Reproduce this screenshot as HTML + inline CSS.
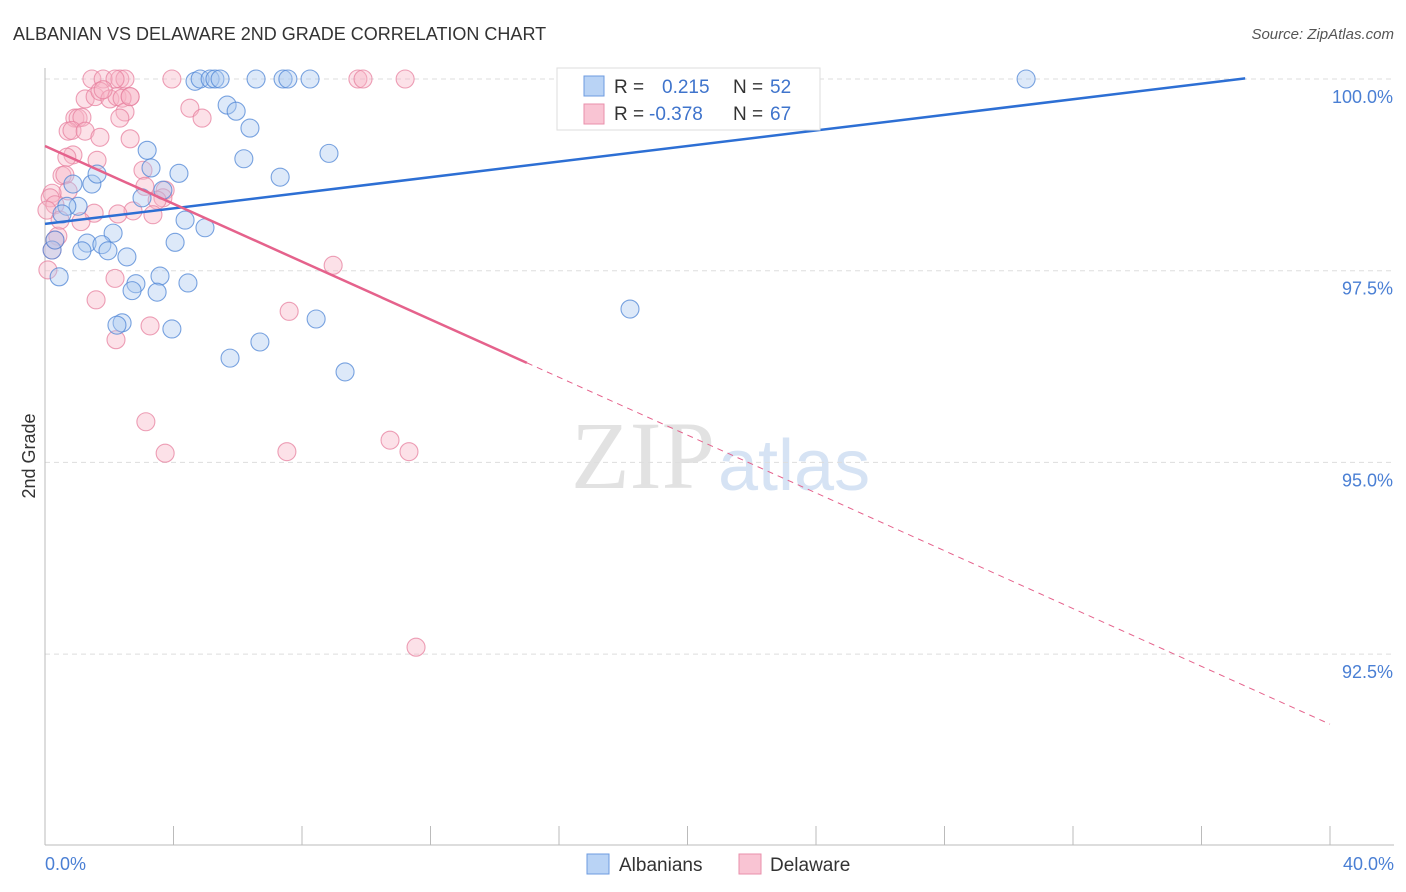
<!DOCTYPE html>
<html><head><meta charset="utf-8">
<style>
body{margin:0;background:#fff;font-family:"Liberation Sans",sans-serif;}
#wrap{position:relative;width:1406px;height:892px;overflow:hidden;}
</style></head>
<body><div id="wrap">
<svg id="svg" width="1406" height="892" xmlns="http://www.w3.org/2000/svg">
<text x="13" y="40" font-size="18" fill="#333">ALBANIAN VS DELAWARE 2ND GRADE CORRELATION CHART</text>
<text x="1394" y="39" font-size="15" fill="#555" text-anchor="end" font-style="italic">Source: ZipAtlas.com</text>
<text x="715" y="488" font-size="96" fill="#e2e2e2" text-anchor="end" font-family="Liberation Serif,serif">ZIP</text>
<text x="718" y="490" font-size="72" fill="#d6e3f4">atlas</text>
<g id="grid"></g><g id="axes"></g><g id="pts"></g><g id="lines"></g>
<text x="35" y="456" font-size="18" fill="#333" transform="rotate(-90 35 456)" text-anchor="middle">2nd Grade</text>
<text x="45" y="870" font-size="18" fill="#4a7fd4">0.0%</text>
<text x="1394" y="870" font-size="18" fill="#4a7fd4" text-anchor="end">40.0%</text>
<g>
<rect x="557" y="68" width="263" height="62" fill="#fff" stroke="#ddd"/>
<rect x="584" y="76" width="20" height="20" fill="#b9d3f5" stroke="#6d9be0"/>
<text x="614" y="93" font-size="19" fill="#333">R =</text><text x="662" y="93" font-size="19" fill="#3f74cc">0.215</text>
<text x="733" y="93" font-size="19" fill="#333">N =</text><text x="770" y="93" font-size="19" fill="#3f74cc">52</text>
<rect x="584" y="104" width="20" height="20" fill="#f9c4d3" stroke="#e98fab"/>
<text x="614" y="120" font-size="19" fill="#333">R =</text><text x="649" y="120" font-size="19" fill="#3f74cc">-0.378</text>
<text x="733" y="120" font-size="19" fill="#333">N =</text><text x="770" y="120" font-size="19" fill="#3f74cc">67</text>
</g>
<g>
<rect x="587" y="854" width="22" height="20" fill="#b9d3f5" stroke="#6d9be0"/>
<text x="619" y="871" font-size="19" fill="#333">Albanians</text>
<rect x="739" y="854" width="22" height="20" fill="#f9c4d3" stroke="#e98fab"/>
<text x="770" y="871" font-size="19" fill="#333">Delaware</text>
</g>
</svg></div>
<script>
const yTicks=[100,97.5,95,92.5];
const yTickLabels=["100.0%","97.5%","95.0%","92.5%"];
const blueX=[4.67,4.83,5.14,5.29,5.45,6.57,7.41,7.56,8.25,30.54,5.67,5.95,6.38,3.18,6.19,8.84,3.30,4.17,7.32,0.87,1.46,1.62,1.03,0.68,0.53,3.67,3.02,4.36,4.98,2.12,4.05,1.31,1.77,1.15,1.96,2.55,0.22,0.44,3.58,4.45,2.83,2.71,3.49,18.21,8.44,2.40,2.24,3.95,6.69,5.76,9.34,0.31];
const blueY=[99.97,100,100,100,100,100,100,100,100,100,99.66,99.58,99.36,99.07,98.96,99.03,98.84,98.77,98.72,98.63,98.63,98.76,98.34,98.34,98.24,98.55,98.45,98.16,98.06,97.99,97.87,97.86,97.84,97.76,97.76,97.68,97.77,97.42,97.43,97.34,97.33,97.24,97.22,97.00,96.87,96.82,96.79,96.74,96.57,96.36,96.18,97.90];
const pinkX=[1.46,1.81,2.33,2.49,3.95,9.74,9.90,11.21,2.18,1.25,1.56,1.71,2.02,2.24,2.65,2.40,0.93,1.03,1.15,0.72,0.84,1.25,1.71,2.65,2.49,2.33,4.51,4.89,0.87,0.68,1.62,0.53,0.62,0.72,0.22,0.16,0.31,0.06,1.53,1.12,0.40,0.22,0.09,3.05,3.11,3.74,3.67,3.49,2.74,2.27,3.36,8.97,2.18,1.59,7.60,3.27,2.21,3.14,3.74,7.53,10.74,11.33,11.55,0.31,0.47,1.81,2.65];
const pinkY=[100,100,100,100,100,100,100,100,100,99.74,99.77,99.84,99.74,99.77,99.77,99.75,99.49,99.49,99.50,99.32,99.33,99.32,99.24,99.22,99.57,99.49,99.62,99.49,99.01,98.98,98.94,98.74,98.75,98.54,98.51,98.45,98.36,98.29,98.25,98.14,97.95,97.77,97.51,98.81,98.60,98.55,98.45,98.42,98.28,98.24,98.23,97.57,97.40,97.12,96.97,96.78,96.60,95.53,95.12,95.14,95.29,95.14,92.59,97.90,98.16,99.86,99.77];
const blueTrend=[98.11,0.0508];
const pinkTrend=[99.126,-0.1885];
const NS="http://www.w3.org/2000/svg";
const X=v=>45+v*32.125, Y=v=>79+(100-v)*76.68;
function mk(p,t,a){const e=document.createElementNS(NS,t);for(const k in a)e.setAttribute(k,a[k]);p.appendChild(e);return e;}
const grid=document.getElementById('grid'),axes=document.getElementById('axes'),pts=document.getElementById('pts'),lines=document.getElementById('lines');
yTicks.forEach((t,i)=>{
 const l=mk(grid,'line',{x1:45,x2:1394,y1:Y(t),y2:Y(t),stroke:'#ddd','stroke-dasharray':'5,4'});
 
 
 const tx=mk(grid,'text',{x:1393,y:Y(t)+24,'font-size':18,fill:'#4a7fd4','text-anchor':'end'});
 tx.textContent=yTickLabels[i];
 
 
});
mk(axes,'line',{x1:45,x2:45,y1:68,y2:845,stroke:'#bbb'});
mk(axes,'line',{x1:45,x2:1394,y1:845,y2:845,stroke:'#bbb'});
for(let i=0;i<=10;i++){const t=mk(axes,'line',{x1:X(i*4),x2:X(i*4),y1:826,y2:845,stroke:'#bbb'});
 
 }
function dots(xs,ys,fill,stroke,name){xs.forEach((x,i)=>{
 const c=mk(pts,'circle',{cx:X(x),cy:Y(ys[i]),r:9,fill:fill,'fill-opacity':0.4,stroke:stroke,'stroke-width':1.1,'stroke-opacity':0.75});
 
 
});}
dots(pinkX,pinkY,'#f7b3c6','#e7809f','delaware-point');
dots(blueX,blueY,'#a9c8ef','#4f86d6','albanians-point');
let bl=mk(lines,'line',{x1:X(0),y1:Y(blueTrend[0]),x2:X(37.36),y2:Y(blueTrend[0]+blueTrend[1]*37.36),stroke:'#2d6fd4','stroke-width':2.5});


let pl=mk(lines,'line',{x1:X(0),y1:Y(pinkTrend[0]),x2:X(15),y2:Y(pinkTrend[0]+pinkTrend[1]*15),stroke:'#e5628c','stroke-width':2.5});


let pd=mk(lines,'line',{x1:X(15),y1:Y(pinkTrend[0]+pinkTrend[1]*15),x2:X(40),y2:Y(pinkTrend[0]+pinkTrend[1]*40),stroke:'#e5628c','stroke-width':1,'stroke-dasharray':'6,5'});


</script>
</body></html>
